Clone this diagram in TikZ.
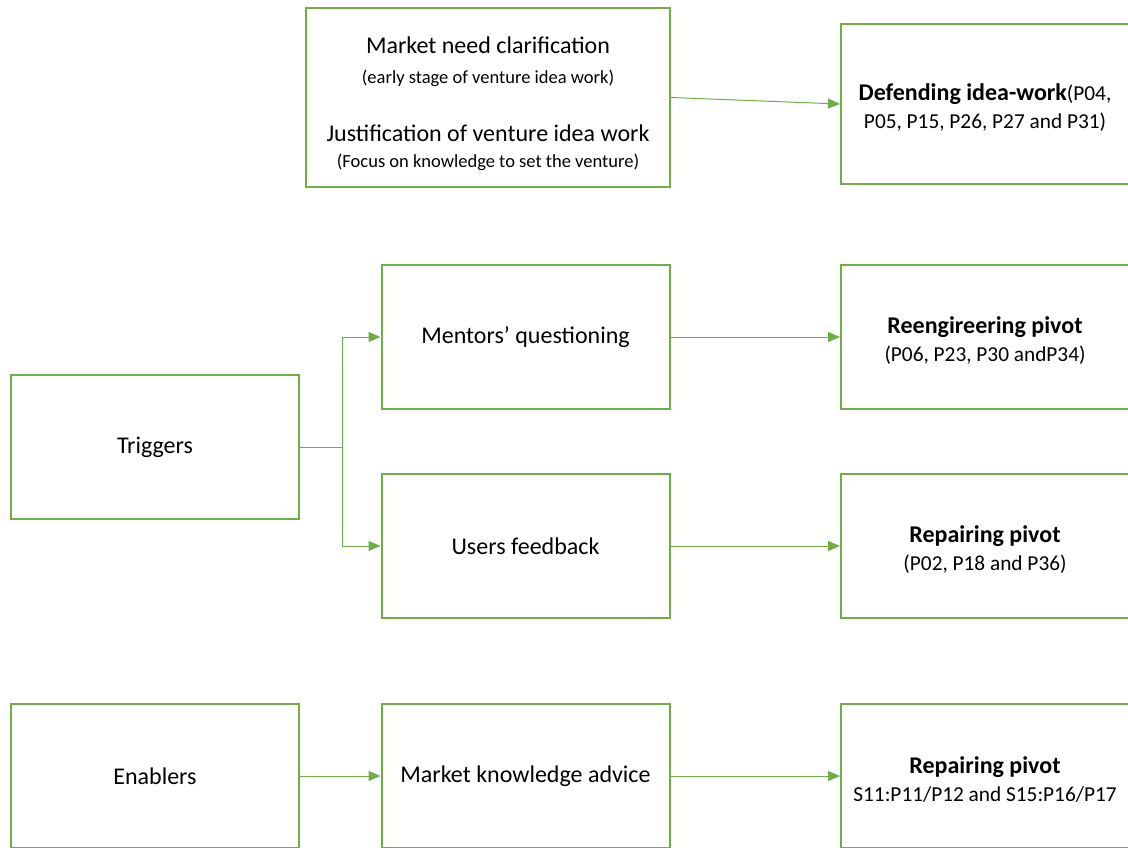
\documentclass[tikz,border=0pt]{standalone}
\usepackage{fontspec}
\setmainfont{Carlito}
\usetikzlibrary{arrows.meta}
\definecolor{boxgreen}{HTML}{70AD47}
\newcommand{\smalltext}{\fontsize{18.5}{22}\selectfont}
\newcommand{\pivotname}[1]{{\fontsize{24}{28}\selectfont\bfseries\rule{0pt}{24pt}#1}}
\begin{document}
\begin{tikzpicture}[x=1pt, y=-1pt,
  box/.style={draw=boxgreen, line width=2pt, minimum width=288pt, minimum height=144pt,
    align=center, inner sep=0pt, font=\fontsize{24}{29}\selectfont},
  pivot/.style={box, font=\fontsize{21.3}{28}\selectfont},
  link/.style={draw=boxgreen, line width=1pt, -{Triangle[length=12pt,width=10pt]}}]
\useasboundingbox (0,0) rectangle (1128,847);
\clip (0,0) rectangle (1128,847);
% top row
\node[box, minimum width=364pt, minimum height=179pt] (need) at (488,97.5)
  {\rule{0pt}{30pt}Market need clarification\\[1pt]
   {\smalltext (early stage of venture idea work)}\\[29pt]
   Justification of venture idea work\\[-3pt]
   {\smalltext (Focus on knowledge to set the venture)}};
\node[pivot, minimum height=160pt] (defend) at (985,104)
  {\pivotname{Defending idea-work}(P04,\\ P05, P15, P26, P27 and P31)};
% triggers
\node[box] (trig) at (155,447) {Triggers};
\node[box] (mentor) at (525.5,337) {Mentors’ questioning};
\node[box] (users) at (525.5,546) {Users feedback};
\node[pivot] (reeng) at (985,337) {\pivotname{Reengireering pivot}\\ (P06, P23, P30 andP34)};
\node[pivot] (repair) at (985,546) {\pivotname{Repairing pivot}\\ (P02, P18 and P36)};
% enablers
\node[box] (enab) at (155,776) {Enablers};
\node[box] (advice) at (525.5,776) {Market knowledge advice};
\node[pivot] (repairb) at (985,776) {\pivotname{Repairing pivot}\\ S11:P11/P12 and S15:P16/P17};
% connectors
\draw[link] (need.east) -- (defend.west);
\draw[link] (trig.east) -- ++(42,0) coordinate (fork) |- (mentor.west);
\draw[link] (fork) |- (users.west);
\draw[link] (mentor) -- (reeng);
\draw[link] (users) -- (repair);
\draw[link] (enab) -- (advice);
\draw[link] (advice) -- (repairb);
\end{tikzpicture}
\end{document}
